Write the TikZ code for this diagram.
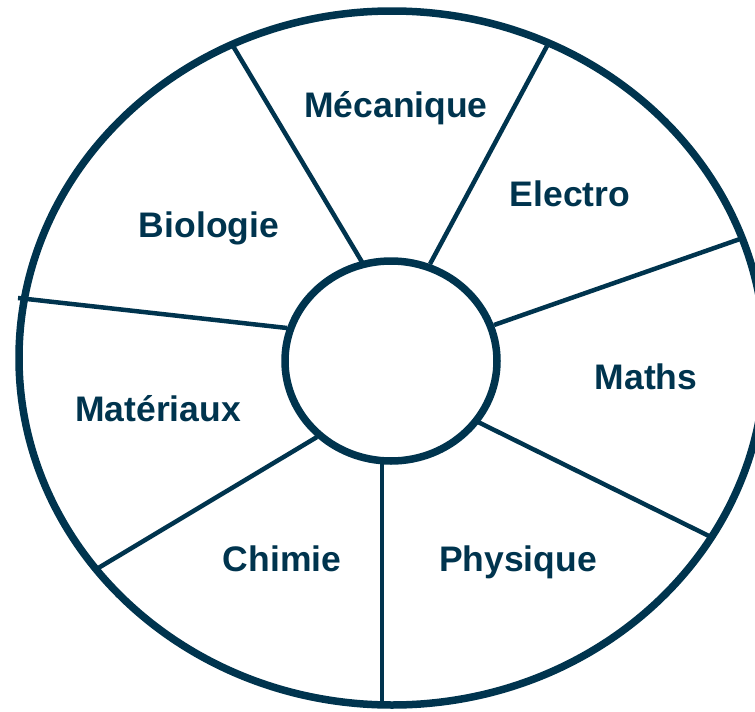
\documentclass[tikz,border=0pt]{standalone}
\usepackage{fontspec}
\setmainfont{Liberation Sans}
\definecolor{navy}{RGB}{0,52,78}

\begin{document}
\begin{tikzpicture}[x=1pt,y=-1pt,
    ring/.style={draw=navy,line width=7.5pt},
    spoke/.style={draw=navy,line width=4.5pt},
    field/.style={text=navy,font=\fontsize{35.5}{42}\selectfont\bfseries,anchor=base}]
    \useasboundingbox (0,0) rectangle (755,712);
    \clip (0,0) rectangle (755,712);

    % points on the outer ring
    \coordinate (o1) at (233,46);
    \coordinate (o2) at (547,46);
    \coordinate (o3) at (740,239);
    \coordinate (o4) at (711,537);
    \coordinate (o5) at (382,706);
    \coordinate (o6) at (95,570);
    \coordinate (o7) at (18,298);
    % points on the hub
    \coordinate (i1) at (362,262);
    \coordinate (i2) at (430,264);
    \coordinate (i3) at (494,325);
    \coordinate (i4) at (478,422);
    \coordinate (i5) at (382,463);
    \coordinate (i6) at (317,437);
    \coordinate (i7) at (287,328);

    % spokes
    \foreach \k in {1,...,7}
        \draw[spoke] (i\k) -- (o\k);

    % rings
    \coordinate (centre) at (392,358);
    \coordinate (hub) at (391,361);
    \draw[ring] (centre) ellipse [x radius=373, y radius=347];
    \draw[ring] (hub) ellipse [x radius=106, y radius=100];

    % fields
    \node[field] (meca) at (396,117) {Mécanique};
    \node[field] (elec) at (570,206) {Electro};
    \node[field] (math) at (646,389) {Maths};
    \node[field] (phys) at (518,571) {Physique};
    \node[field] (chim) at (282,571) {Chimie};
    \node[field] (mate) at (158,421) {Matériaux};
    \node[field] (bio) at (209,237) {Biologie};
\end{tikzpicture}
\end{document}
